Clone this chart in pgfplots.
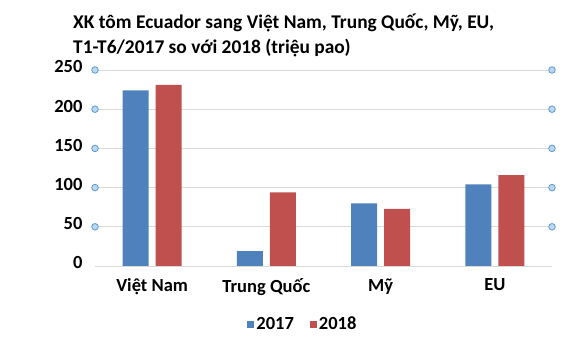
\documentclass[border=0pt]{standalone}
\usepackage{pgfplots}
\pgfplotsset{compat=1.18}
\usepackage{fontspec}
\setmainfont{Carlito}
\definecolor{c17}{HTML}{4F81BD}
\definecolor{c18}{HTML}{C0504D}
\definecolor{gridc}{HTML}{D9D9D9}
\definecolor{hand}{HTML}{5B9BD5}
\definecolor{handf}{HTML}{BDD7EE}
\begin{document}
\begin{tikzpicture}[x=1pt,y=1pt]
\useasboundingbox (0,0) rectangle (563,350);
\node[anchor=base west, inner sep=0pt, font=\bfseries\fontsize{19.4}{23}\selectfont] at (73,321) {XK tôm Ecuador sang Việt Nam, Trung Quốc, Mỹ, EU,};
\node[anchor=base west, inner sep=0pt, font=\bfseries\fontsize{19.4}{23}\selectfont] at (73,296) {T1-T6/2017 so với 2018 (triệu pao)};
\begin{axis}[
  at={(95pt,84pt)}, anchor=south west,
  scale only axis, width=457pt, height=196pt,
  xmin=-0.5, xmax=3.5, ymin=0, ymax=250,
  ybar=7pt, bar width=26pt,
  xtick={0,1,2,3},
  xticklabels={Việt Nam, Trung Quốc, Mỹ, EU},
  ytick={0,50,100,150,200,250},
  /pgf/number format/assume math mode=true,
  ticklabel style={font=\bfseries\fontsize{18.5}{21}\selectfont},
  yticklabel style={xshift=-9pt, yshift=3pt},
  xticklabel style={yshift=-9pt},
  major tick length=0pt,
  ymajorgrids, grid style={gridc, line width=0.8pt},
  axis y line*=left,
  y axis line style={draw=none},
  axis x line*=bottom,
  x axis line style={gridc, line width=0.8pt, -},
  clip=false,
  legend style={at={(0.455,-0.296)}, anchor=center, draw=none, fill=none,
    font=\bfseries\fontsize{18.5}{21}\selectfont, legend columns=2,
    /tikz/every even column/.append style={column sep=14pt}},
  legend image code/.code={\fill[#1] (-3pt,-3.5pt) rectangle (4pt,3.5pt);},
]
\addplot[fill=c17, draw=none] coordinates {(0,224) (1,19) (2,80) (3,104)};
\addplot[fill=c18, draw=none] coordinates {(0,231) (1,94) (2,73) (3,116)};
\legend{2017,2018}
\addplot[ybar=0pt, only marks, mark=*, mark size=3.3pt, mark options={draw=hand, fill=handf, line width=0.8pt}, forget plot]
 coordinates {(-0.5,50) (-0.5,100) (-0.5,150) (-0.5,200) (-0.5,250) (3.5,50) (3.5,100) (3.5,150) (3.5,200) (3.5,250)};
\end{axis}
\end{tikzpicture}
\end{document}
